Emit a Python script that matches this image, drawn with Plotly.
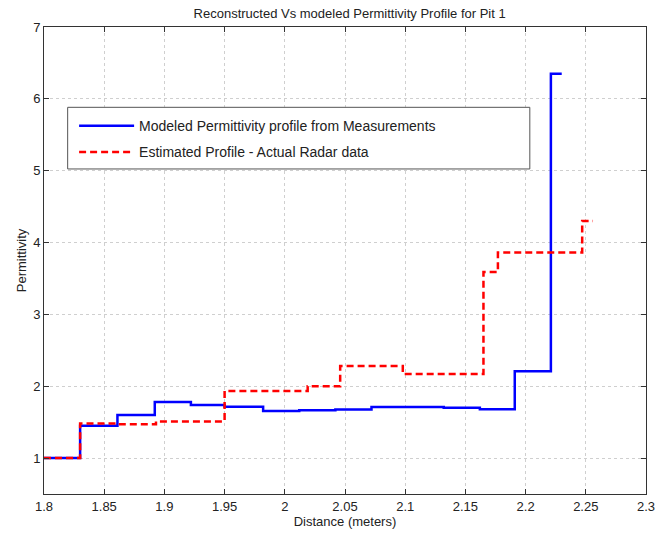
import plotly.graph_objects as go

# Modeled permittivity profile (step start positions and levels)
blue_x = [1.80, 1.83, 1.861, 1.892, 1.922, 1.95, 1.982, 2.012, 2.042, 2.072, 2.132, 2.162, 2.191, 2.221, 2.230]
blue_y = [1.00, 1.45, 1.60, 1.78, 1.74, 1.715, 1.655, 1.665, 1.675, 1.71, 1.70, 1.68, 2.21, 6.35, 6.35]

# Estimated profile from actual radar data
red_x = [1.80, 1.83, 1.862, 1.893, 1.95, 2.019, 2.046, 2.098, 2.165, 2.177, 2.247, 2.256]
red_y = [1.00, 1.48, 1.47, 1.51, 1.935, 2.00, 2.28, 2.17, 3.59, 3.86, 4.30, 4.30]

x_ticks = [1.8, 1.85, 1.9, 1.95, 2.0, 2.05, 2.1, 2.15, 2.2, 2.25, 2.3]
x_labels = ["1.8", "1.85", "1.9", "1.95", "2", "2.05", "2.1", "2.15", "2.2", "2.25", "2.3"]
y_ticks = [1, 2, 3, 4, 5, 6, 7]

fig = go.Figure()
fig.add_trace(go.Scatter(
    x=blue_x, y=blue_y, mode="lines", line_shape="hv",
    line=dict(color="#0000ff", width=2.5), legendgroup="a",
    name="Modeled Permittivity profile from Measurements"))
fig.add_trace(go.Scatter(
    x=red_x, y=red_y, mode="lines", line_shape="hv",
    line=dict(color="#ff0000", width=2.5, dash="7px,4px"), legendgroup="b",
    name="Estimated Profile - Actual Radar data"))

axis_common = dict(
    showline=True, linecolor="#333333", linewidth=1, mirror="ticks",
    ticks="inside", ticklen=5, tickcolor="#333333",
    showgrid=True, gridcolor="#cfcfcf", griddash="dot", gridwidth=1,
    zeroline=False, tickfont=dict(size=13, color="#222222"),
)

# legend frame (MATLAB-style box wider than its text)
fig.add_shape(type="rect", xref="paper", yref="paper",
              x0=0.0393, x1=0.807, y0=0.696, y1=0.828,
              line=dict(color="#555555", width=1), fillcolor="white", layer="above")

fig.update_layout(
    width=666, height=538,
    margin=dict(l=44, r=11, t=27, b=40),
    paper_bgcolor="white", plot_bgcolor="white",
    font=dict(family="Liberation Sans, Arial, sans-serif", color="#222222"),
    title=dict(text="Reconstructed Vs modeled Permittivity Profile for Pit 1",
               x=0.525, xanchor="center", y=0.983, yanchor="top",
               font=dict(size=13, color="#222222")),
    xaxis=dict(range=[1.8, 2.3], tickvals=x_ticks, ticktext=x_labels,
               title=dict(text="Distance (meters)", font=dict(size=13), standoff=4),
               **axis_common),
    yaxis=dict(range=[0.5, 7], tickvals=y_ticks,
               title=dict(text="Permittivity", font=dict(size=13), standoff=3),
               **axis_common),
    legend=dict(x=0.05, y=0.822, xanchor="left", yanchor="top",
                bgcolor="rgba(0,0,0,0)", borderwidth=0,
                font=dict(size=14, color="#222222"), itemwidth=55,
                tracegroupgap=5),
    showlegend=True,
)

fig.write_html("out.html")
